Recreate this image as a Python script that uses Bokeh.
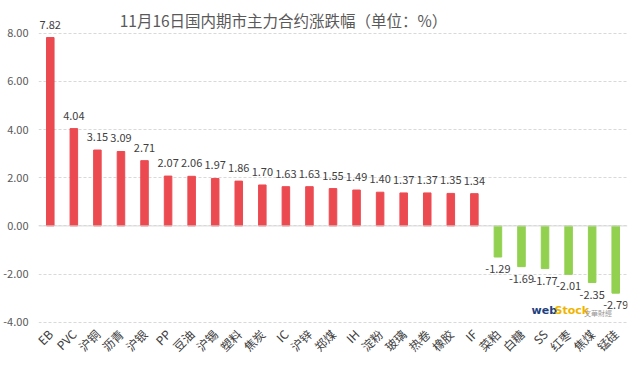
from bokeh.plotting import figure
from bokeh.models import ColumnDataSource, FixedTicker, Span, Label, NumeralTickFormatter
from bokeh.embed import file_html
from bokeh.resources import INLINE
from bokeh.core.properties import value
import math

categories = ["EB", "PVC", "沪铜", "沥青", "沪银", "PP", "豆油", "沪锡", "塑料", "焦炭",
              "IC", "沪锌", "郑煤", "IH", "淀粉", "玻璃", "热卷", "橡胶", "IF", "菜粕",
              "白糖", "SS", "红枣", "焦煤", "锰硅"]
changes = [7.82, 4.04, 3.15, 3.09, 2.71, 2.07, 2.06, 1.97, 1.86, 1.70,
           1.63, 1.63, 1.55, 1.49, 1.40, 1.37, 1.37, 1.35, 1.34, -1.29,
           -1.69, -1.77, -2.01, -2.35, -2.79]
y_ticks = [-4, -2, 0, 2, 4, 6, 8]
title_text = "11月16日国内期市主力合约涨跌幅（单位：%）"

RED = "#EC4A51"
GREEN = "#92D050"
FONT = "Noto Sans CJK SC"

colors = [RED if v >= 0 else GREEN for v in changes]
labels = ["%.2f" % v for v in changes]
offsets = [-13 if v >= 0 else 12 for v in changes]
src = ColumnDataSource(dict(cat=categories, val=changes, color=colors, lab=labels, off=offsets))

p = figure(x_range=categories, y_range=(-4.05, 9.15), width=628, height=363,
           output_backend="svg", toolbar_location=None,
           min_border_left=38, min_border_right=1, min_border_top=5, min_border_bottom=37)
p.outline_line_color = None
p.background_fill_color = "white"
p.border_fill_color = "white"

p.vbar(x="cat", top="val", bottom=0, width=0.32, color="color", source=src)
p.text(x="cat", y="val", text="lab", y_offset="off", text_align="center", text_baseline="middle",
       text_font=value(FONT), text_font_size="11px", text_color="#404040", source=src)

p.add_layout(Span(location=0, dimension="width", line_color="#D9D9D9", line_width=1))

p.xgrid.grid_line_color = None
p.ygrid.grid_line_color = "#D9D9D9"
p.ygrid.grid_line_dash = "3 2"
p.ygrid.ticker = FixedTicker(ticks=y_ticks)

p.yaxis.ticker = FixedTicker(ticks=y_ticks)
p.yaxis.formatter = NumeralTickFormatter(format="0.00")
p.yaxis.axis_line_color = None
p.yaxis.major_tick_line_color = None
p.yaxis.minor_tick_line_color = None
p.yaxis.major_tick_out = 0
p.yaxis.minor_tick_out = 0
p.yaxis.major_label_text_font = FONT
p.yaxis.major_label_text_font_size = "11px"
p.yaxis.major_label_text_color = "#595959"
p.yaxis.major_label_standoff = 10

p.xaxis.axis_line_color = None
p.xaxis.major_tick_line_color = None
p.xaxis.minor_tick_line_color = None
p.xaxis.major_tick_out = 0
p.xaxis.minor_tick_out = 0
p.xaxis.major_label_orientation = math.pi / 4
p.xaxis.major_label_text_font = FONT
p.xaxis.major_label_text_font_size = "12px"
p.xaxis.major_label_text_color = "#404040"
p.xaxis.major_label_standoff = 8

p.add_layout(Label(x=10.4, y=8.54, text=title_text, text_align="center", text_baseline="middle",
                   text_font=FONT, text_font_size="15.5px", text_color="#595959"))

p.add_layout(Label(x=20.93, y=-3.51, text="web", text_align="left", text_baseline="middle",
                   text_font="DejaVu Sans", text_font_style="bold", text_font_size="11px", text_color="#1F3F7F"))
p.add_layout(Label(x=21.9, y=-3.51, text="Stock", text_align="left", text_baseline="middle",
                   text_font="DejaVu Sans", text_font_style="bold", text_font_size="11px", text_color="#F0B400"))
p.add_layout(Label(x=23.15, y=-3.62, text="文華財經", text_align="left", text_baseline="middle",
                   text_font=FONT, text_font_size="7px", text_color="#9A9A9A"))

open("out.html", "w").write(file_html(p, INLINE))
